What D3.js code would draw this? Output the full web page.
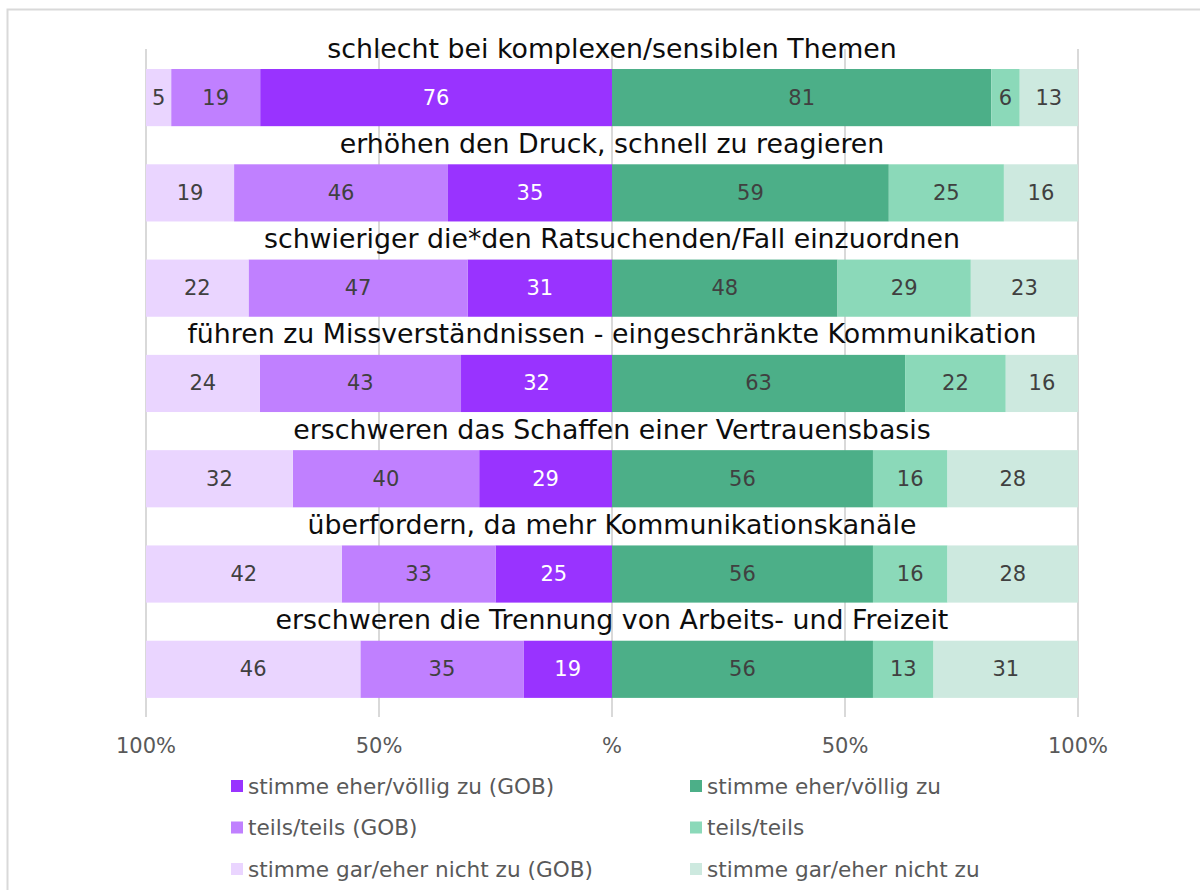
<!DOCTYPE html>
<html>
<head>
<meta charset="utf-8">
<script src="https://cdn.jsdelivr.net/npm/d3@7"></script>
<style>
  body { margin: 0; background: #fff; }
  svg text { font-family: Verdana, "DejaVu Sans", sans-serif; }
</style>
</head>
<body>
<div id="chart"></div>
<script>
// statements (row titles), top to bottom
var statements = [
    "schlecht bei komplexen/sensiblen Themen",
    "erhöhen den Druck, schnell zu reagieren",
    "schwieriger die*den Ratsuchenden/Fall einzuordnen",
    "führen zu Missverständnissen - eingeschränkte Kommunikation",
    "erschweren das Schaffen einer Vertrauensbasis",
    "überfordern, da mehr Kommunikationskanäle",
    "erschweren die Trennung von Arbeits- und Freizeit"
];

// GOB group (left side), percent (labels show rounded values)
var gobAgree    = [75.5, 35.2, 31, 32.4, 28.5, 25, 19];
var gobPartly   = [19.1, 45.9, 47, 43.2, 40.0, 33, 35];
var gobDisagree = [5.4, 18.9, 22, 24.4, 31.5, 42, 46];

// other group (right side), percent
var agree    = [81.4, 59.4, 48.4, 62.9, 56, 56, 56];
var partly   = [6.1, 24.7, 28.6, 21.6, 16, 16, 13];
var disagree = [12.5, 15.9, 23.0, 15.5, 28, 28, 31];

var tickValues = [-100, -50, 0, 50, 100];
var tickLabels = ["100%", "50%", "%", "50%", "100%"];

var seriesNames = [
    "stimme eher/völlig zu (GOB)", "teils/teils (GOB)", "stimme gar/eher nicht zu (GOB)",
    "stimme eher/völlig zu", "teils/teils", "stimme gar/eher nicht zu"
];
var seriesColors = ["#9933ff", "#c080ff", "#ead5ff", "#4caf88", "#8bd9b9", "#cde9df"];
var labelColors = ["#ffffff", "#404040", "#404040", "#404040", "#404040", "#404040"];

var width = 1200, height = 890;

var svg = d3.select("#chart").append("svg")
    .attr("width", width)
    .attr("height", height);

// outer frame
svg.append("rect")
    .attr("x", 7.5).attr("y", 9.5)
    .attr("width", 1300).attr("height", 1000)
    .attr("fill", "none")
    .attr("stroke", "#d9d9d9")
    .attr("stroke-width", 2);

var x = d3.scaleLinear().domain([-100, 100]).range([146, 1078]);
var y = d3.scaleBand().domain(statements).range([49, 716]);
var bw = y.bandwidth();

// gridlines
svg.selectAll(".grid")
    .data(tickValues)
    .enter()
    .append("line")
    .attr("class", "grid")
    .attr("x1", (d) => x(d)).attr("x2", (d) => x(d))
    .attr("y1", 49).attr("y2", 717)
    .attr("stroke", "#d9d9d9")
    .attr("stroke-width", 2);

// build segments: left side stacks outward from 0 to negative, right side to positive
var segments = [];
statements.forEach(function(s, i){
    var left = [gobAgree[i], gobPartly[i], gobDisagree[i]];
    var right = [agree[i], partly[i], disagree[i]];
    var acc = 0;
    left.forEach(function(v, k){
        segments.push({cat: s, x0: -(acc + v), x1: -acc, v: v, k: k});
        acc += v;
    });
    acc = 0;
    right.forEach(function(v, k){
        segments.push({cat: s, x0: acc, x1: acc + v, v: v, k: k + 3});
        acc += v;
    });
});

svg.selectAll(".seg")
    .data(segments)
    .enter()
    .append("rect")
    .attr("class", "seg")
    .attr("x", (d) => x(d.x0))
    .attr("width", (d) => x(d.x1) - x(d.x0))
    .attr("y", (d) => y(d.cat) + bw * 0.21)
    .attr("height", bw * 0.6)
    .attr("fill", (d) => seriesColors[d.k]);

svg.selectAll(".segLabel")
    .data(segments)
    .enter()
    .append("text")
    .attr("class", "segLabel")
    .attr("x", (d) => (x(d.x0) + x(d.x1)) / 2)
    .attr("y", (d) => y(d.cat) + bw * 0.51)
    .attr("text-anchor", "middle")
    .attr("dominant-baseline", "central")
    .attr("font-size", 21)
    .attr("fill", (d) => labelColors[d.k])
    .text((d) => Math.round(d.v));

// statement titles above each bar
svg.selectAll(".title")
    .data(statements)
    .enter()
    .append("text")
    .attr("class", "title")
    .attr("x", x(0))
    .attr("y", (d) => y(d) - 1)
    .attr("text-anchor", "middle")
    .attr("dominant-baseline", "central")
    .attr("font-size", 26.8)
    .attr("fill", "#0d0d0d")
    .text((d) => d);

// axis tick labels
svg.selectAll(".tick")
    .data(tickValues)
    .enter()
    .append("text")
    .attr("class", "tick")
    .attr("x", (d) => x(d))
    .attr("y", 746)
    .attr("text-anchor", "middle")
    .attr("dominant-baseline", "central")
    .attr("font-size", 21)
    .attr("fill", "#595959")
    .text((d, i) => tickLabels[i]);

// legend, two columns
var legend = svg.selectAll(".legend")
    .data(seriesNames)
    .enter()
    .append("g")
    .attr("class", "legend")
    .attr("transform", (d, i) => `translate(${i < 3 ? 231 : 690},${786 + (i % 3) * 41.5})`);

legend.append("rect")
    .attr("x", 0).attr("y", -6)
    .attr("width", 12).attr("height", 12)
    .attr("fill", (d, i) => seriesColors[i]);

legend.append("text")
    .attr("x", 17)
    .attr("y", 0)
    .attr("dominant-baseline", "central")
    .attr("font-size", 21.6)
    .attr("fill", "#595959")
    .text((d) => d);
</script>
</body>
</html>
